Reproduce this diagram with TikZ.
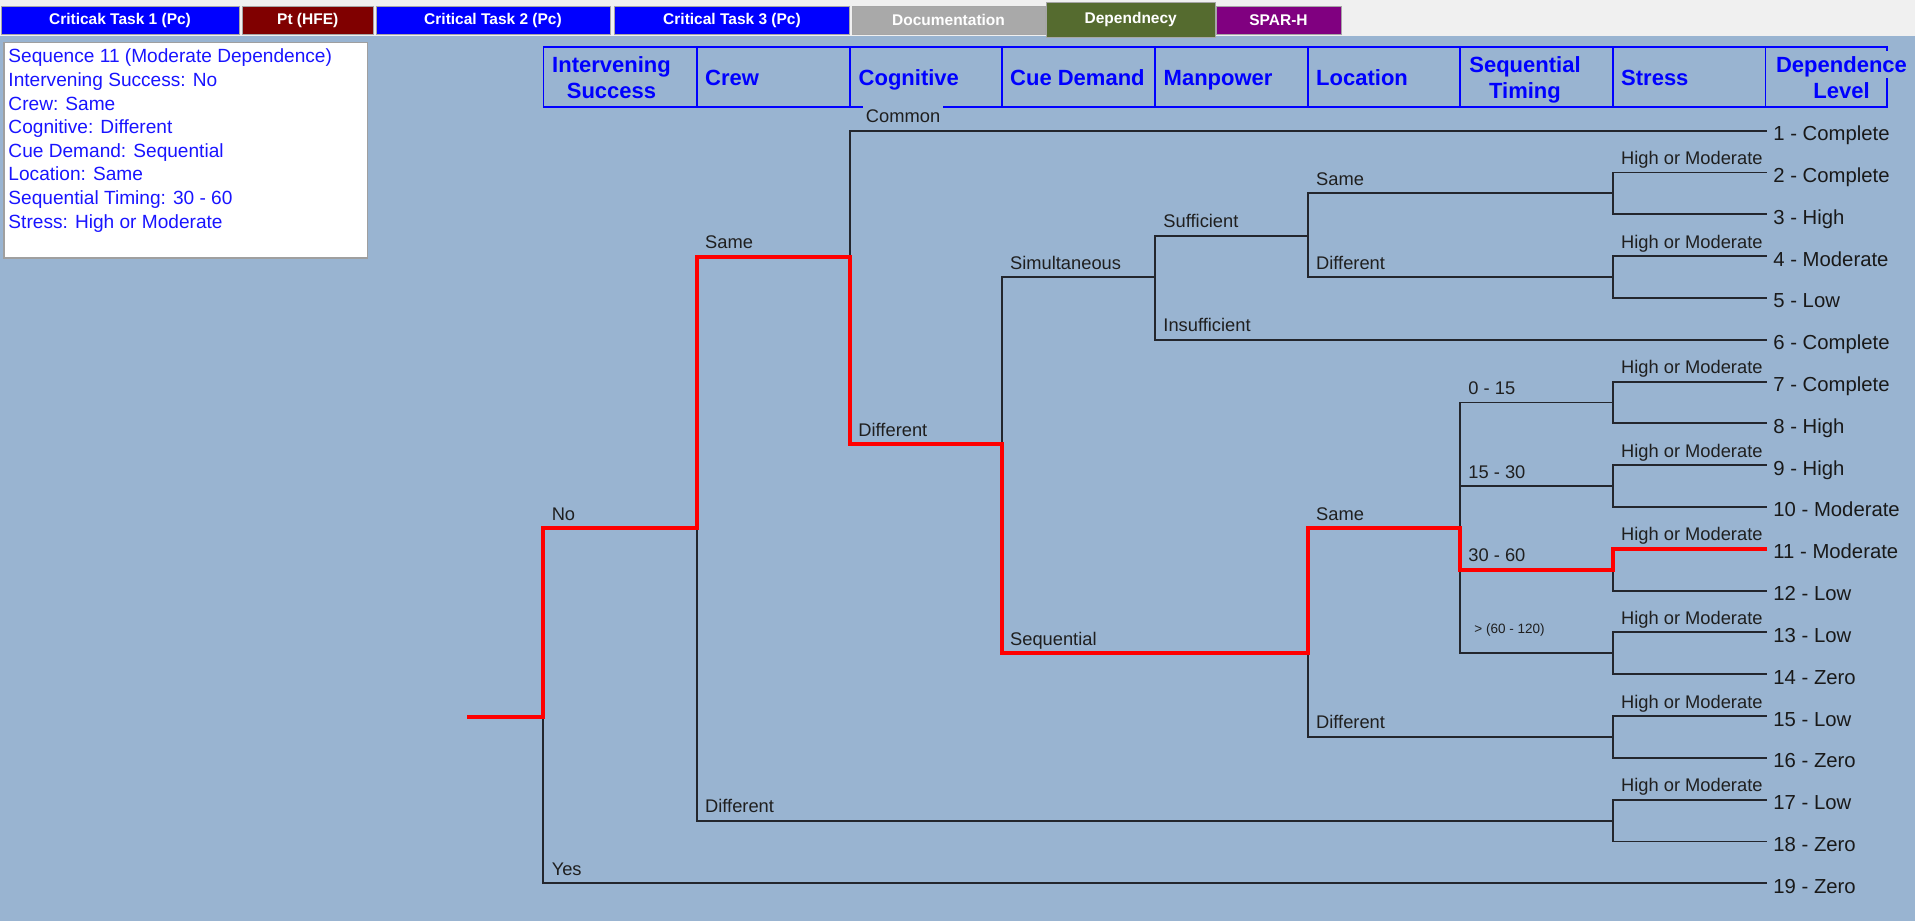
\documentclass[tikz,border=0pt]{standalone}
\usepackage{fontspec}
\setmainfont{Liberation Sans}
\definecolor{panelbg}{RGB}{153,180,209}
\definecolor{stripbg}{RGB}{240,240,240}
\definecolor{hdrblue}{RGB}{0,0,255}
\definecolor{infoblue}{RGB}{25,20,255}
\definecolor{tabblue}{RGB}{0,0,255}
\definecolor{tabmaroon}{RGB}{128,0,0}
\definecolor{tabgray}{RGB}{169,169,169}
\definecolor{tabolive}{RGB}{85,107,47}
\definecolor{tabpurple}{RGB}{128,0,128}
\definecolor{treeline}{RGB}{35,38,45}
\definecolor{pathred}{RGB}{255,0,0}

\begin{document}
\begin{tikzpicture}[x=1pt,y=-1pt,
  tab/.style={draw=gray!70, line width=0.8pt, text=white, inner sep=0pt,
    font=\fontsize{15.5}{18}\selectfont\bfseries, minimum height=28pt},
  hline/.style={draw=hdrblue, line width=1.6pt},
  htext/.style={text=hdrblue, inner sep=0pt, align=center,
    font=\fontsize{22}{26}\selectfont\bfseries},
  branch/.style={draw=treeline, line width=1.9pt},
  chosen/.style={draw=pathred, line width=4pt},
  lbl/.style={pos=0.5, anchor=base west, xshift=7.5pt, yshift=8pt,
    inner sep=0pt, text=black!88, font=\fontsize{18.3}{22}\selectfont},
  smalllbl/.style={lbl, xshift=6pt, yshift=12pt, font=\fontsize{13.5}{16}\selectfont},
  hidebg/.style={fill=panelbg, inner xsep=3pt, inner ysep=4.5pt, xshift=4.5pt},
  leaflbl/.style={anchor=base west, inner sep=0pt, xshift=6.5pt, yshift=-10pt,
    text=black!90, font=\fontsize{20.3}{24}\selectfont},
]
\useasboundingbox (0,0) rectangle (1915,921);

% window background and tab strip
\fill[panelbg] (0,0) rectangle (1915,921);
\fill[stripbg] (0,0) rectangle (1915,36);

% tabs
\node[tab, fill=tabblue,   minimum width=238]   (tab1) at (120,20)     {Criticak Task 1 (Pc)};
\node[tab, fill=tabmaroon, minimum width=130.5] (tab2) at (307.75,20)  {Pt (HFE)};
\node[tab, fill=tabblue,   minimum width=234]   (tab3) at (493,20)     {Critical Task 2 (Pc)};
\node[tab, fill=tabblue,   minimum width=235]   (tab4) at (732,20)     {Critical Task 3 (Pc)};
\node[tab, fill=tabgray,   minimum width=193]   (tab5) at (948.5,20)   {Documentation};
\node[tab, fill=tabolive,  minimum width=169.5, minimum height=35] (tab6) at (1130.75,19.5) {Dependnecy};
\node[tab, fill=tabpurple, minimum width=125]   (tab7) at (1278.5,20)  {SPAR-H};

% summary of the selected sequence
\node[draw=gray!75, line width=1.2pt, fill=white, anchor=north west, inner sep=0pt,
  minimum width=363.4, minimum height=215.6] (infobox) at (3.3,41.7) {};
\node[anchor=north west, inner sep=0pt, align=left, text=infoblue,
  font=\fontsize{19.1}{23.6}\selectfont] (info) at (8.3,48.8)
  {Sequence 11 (Moderate Dependence)\\
   Intervening Success: No\\
   Crew: Same\\
   Cognitive: Different\\
   Cue Demand: Sequential\\
   Location: Same\\
   Sequential Timing: 30 - 60\\
   Stress: High or Moderate};

% column header grid
\draw[hline] (1887,50.5) -- (1887,46.7) -- (543.3,46.7) -- (543.3,106.7) -- (1887,106.7) -- (1887,78);
\foreach \cx in {696.7,850,1001.7,1155,1307.7,1460,1612.7,1765.4}
  \draw[hline] (\cx,46.7) -- (\cx,106.7);

\node[htext, anchor=north]     (hIS)    at (611.5,56.5) {Intervening\\Success};
\node[htext, anchor=base west] (hCrew)  at (705,85)     {Crew};
\node[htext, anchor=base west] (hCog)   at (858.5,85)   {Cognitive};
\node[htext, anchor=base west] (hCue)   at (1010,85)    {Cue Demand};
\node[htext, anchor=base west] (hMan)   at (1163.5,85)  {Manpower};
\node[htext, anchor=base west] (hLoc)   at (1316,85)    {Location};
\node[htext, anchor=north]     (hSeq)   at (1525,56.5)  {Sequential\\Timing};
\node[htext, anchor=base west] (hStr)   at (1621,85)    {Stress};
\node[htext, anchor=north]     (hDep)   at (1841.5,56.5){Dependence\\Level};

% decision points (vertical split of each column)
\coordinate (r0)   at (467.3,716.7);
\coordinate (IS)   at (543.3,716.7);
\coordinate (crew) at (696.7,528.3);
\coordinate (cog)  at (850,256.7);
\coordinate (cue)  at (1001.7,444.3);
\coordinate (man)  at (1155,277);
\coordinate (locA) at (1307.7,235.7);
\coordinate (locB) at (1307.7,653.3);
\coordinate (seqT) at (1460,528.3);
\coordinate (s23)   at (1612.7,193.4);
\coordinate (s45)   at (1612.7,277.0);
\coordinate (s78)   at (1612.7,402.5);
\coordinate (s910)  at (1612.7,486.1);
\coordinate (s1112) at (1612.7,569.7);
\coordinate (s1314) at (1612.7,653.3);
\coordinate (s1516) at (1612.7,736.9);
\coordinate (s1718) at (1612.7,820.6);

% end points of the 19 sequences
\foreach \i in {1,...,19}
  \coordinate (l\i) at (1766.7,{130.7+41.81*(\i-1)});

% tree
\draw[branch] (r0) -- (IS);
\draw[branch] (IS) |- node[lbl]{No} (crew);
\draw[branch] (IS) |- node[lbl]{Yes} (l19);
\draw[branch] (crew) |- node[lbl]{Same} (cog);
\draw[branch] (crew) |- node[lbl]{Different} (s1718);
\draw[branch] (cog) |- node[lbl, hidebg]{Common} (l1);
\draw[branch] (cog) |- node[lbl]{Different} (cue);
\draw[branch] (cue) |- node[lbl]{Simultaneous} (man);
\draw[branch] (cue) |- node[lbl]{Sequential} (locB);
\draw[branch] (man) |- node[lbl]{Sufficient} (locA);
\draw[branch] (man) |- node[lbl]{Insufficient} (l6);
\draw[branch] (locA) |- node[lbl]{Same} (s23);
\draw[branch] (locA) |- node[lbl]{Different} (s45);
\draw[branch] (locB) |- node[lbl]{Same} (seqT);
\draw[branch] (locB) |- node[lbl]{Different} (s1516);
\draw[branch] (seqT) |- node[lbl]{0 - 15} (s78);
\draw[branch] (seqT) |- node[lbl]{15 - 30} (s910);
\draw[branch] (seqT) |- node[lbl]{30 - 60} (s1112);
\draw[branch] (seqT) |- node[smalllbl]{> (60 - 120)} (s1314);

% stress splits: upper branch high or moderate, lower branch low
\foreach \s/\a/\b in {s23/2/3, s45/4/5, s78/7/8, s910/9/10, s1112/11/12,
                      s1314/13/14, s1516/15/16, s1718/17/18}{
  \draw[branch] (\s) |- node[lbl]{High or Moderate} (l\a);
  \draw[branch] (\s) |- (l\b);
}

% dependence level of each sequence
\foreach \i/\t in {1/Complete, 2/Complete, 3/High, 4/Moderate, 5/Low,
                   6/Complete, 7/Complete, 8/High, 9/High, 10/Moderate,
                   11/Moderate, 12/Low, 13/Low, 14/Zero, 15/Low, 16/Zero,
                   17/Low, 18/Zero, 19/Zero}
  \node[leaflbl] (d\i) at (l\i) {\i\ - \t};

% highlighted sequence 11
\draw[chosen] (r0) -- (IS) |- (crew) |- (cog) |- (cue) |- (locB) |- (seqT) |- (s1112) |- (l11);
\end{tikzpicture}
\end{document}
